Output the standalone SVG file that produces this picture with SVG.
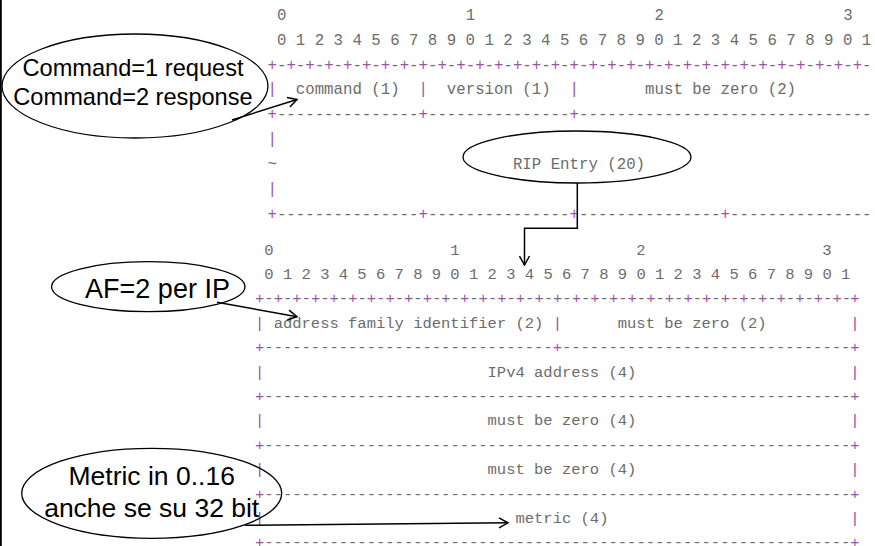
<svg xmlns="http://www.w3.org/2000/svg" width="875" height="546" viewBox="0 0 875 546">
<style>
  .m1 { font-family: "Liberation Mono", "Courier New", monospace; font-size: 15.733px; fill: #6c6c6c; white-space: pre; }
  .m2 { font-family: "Liberation Mono", "Courier New", monospace; font-size: 15.5px; fill: #6c6c6c; white-space: pre; }
  .p { fill: #a050a8; }
  .lbl { font-family: "Liberation Sans", Arial, sans-serif; fill: #000; text-anchor: middle; }
  .ell { fill: none; stroke: #000; stroke-width: 1.3; }
  .conn { fill: none; stroke: #000; stroke-width: 1.5; }
</style>
<defs>
  <marker id="arr" markerWidth="12" markerHeight="12" viewBox="0 0 12 12" refX="11" refY="6" orient="auto" markerUnits="userSpaceOnUse">
    <path d="M2,1 L11,6 L2,11" fill="none" stroke="#000" stroke-width="1.5"/>
  </marker>
</defs>
<rect x="0" y="0" width="1.8" height="546" fill="#000"/>

<g id="rip-header" xml:space="preserve">
  <text class="m1" x="276.94 465.74 654.54 843.34" y="19.7">0123</text>
  <text class="m1" x="276.94" y="44.6">0 1 2 3 4 5 6 7 8 9 0 1 2 3 4 5 6 7 8 9 0 1 2 3 4 5 6 7 8 9 0 1</text>
  <text class="m1" x="267.5" y="69.5"><tspan class="p">+</tspan>-<tspan class="p">+</tspan>-<tspan class="p">+</tspan>-<tspan class="p">+</tspan>-<tspan class="p">+</tspan>-<tspan class="p">+</tspan>-<tspan class="p">+</tspan>-<tspan class="p">+</tspan>-<tspan class="p">+</tspan>-<tspan class="p">+</tspan>-<tspan class="p">+</tspan>-<tspan class="p">+</tspan>-<tspan class="p">+</tspan>-<tspan class="p">+</tspan>-<tspan class="p">+</tspan>-<tspan class="p">+</tspan>-<tspan class="p">+</tspan>-<tspan class="p">+</tspan>-<tspan class="p">+</tspan>-<tspan class="p">+</tspan>-<tspan class="p">+</tspan>-<tspan class="p">+</tspan>-<tspan class="p">+</tspan>-<tspan class="p">+</tspan>-<tspan class="p">+</tspan>-<tspan class="p">+</tspan>-<tspan class="p">+</tspan>-<tspan class="p">+</tspan>-<tspan class="p">+</tspan>-<tspan class="p">+</tspan>-<tspan class="p">+</tspan>-<tspan class="p">+</tspan>-</text>
  <text class="m1" y="94.4"><tspan class="p" x="267.5">|</tspan><tspan x="295.82">command (1)</tspan><tspan class="p" x="418.54">|</tspan><tspan x="446.86">version (1)</tspan><tspan class="p" x="569.58">|</tspan><tspan x="645.1">must be zero (2)</tspan></text>
  <text class="m1" y="119.3"><tspan class="p" x="267.5">+</tspan>---------------<tspan class="p" x="418.54">+</tspan>---------------<tspan class="p" x="569.58">+</tspan>-------------------------------</text>
  <text class="m1 p" x="267.5" y="144.2">|</text>
  <text class="m1" y="169.1"><tspan x="267.5">~</tspan><tspan x="512.94">RIP Entry (20)</tspan></text>
  <text class="m1 p" x="267.5" y="194">|</text>
  <text class="m1" y="218.9"><tspan class="p" x="267.5">+</tspan>---------------<tspan class="p" x="418.54">+</tspan>---------------<tspan class="p" x="569.58">+</tspan>---------------<tspan class="p" x="720.62">+</tspan>---------------</text>
</g>

<g id="rip-entry" xml:space="preserve">
  <text class="m2" x="264.35 450.35 636.35 822.35" y="254.5">0123</text>
  <text class="m2" x="264.35" y="278.9">0 1 2 3 4 5 6 7 8 9 0 1 2 3 4 5 6 7 8 9 0 1 2 3 4 5 6 7 8 9 0 1</text>
  <text class="m2" x="255.05" y="303.3"><tspan class="p">+</tspan>-<tspan class="p">+</tspan>-<tspan class="p">+</tspan>-<tspan class="p">+</tspan>-<tspan class="p">+</tspan>-<tspan class="p">+</tspan>-<tspan class="p">+</tspan>-<tspan class="p">+</tspan>-<tspan class="p">+</tspan>-<tspan class="p">+</tspan>-<tspan class="p">+</tspan>-<tspan class="p">+</tspan>-<tspan class="p">+</tspan>-<tspan class="p">+</tspan>-<tspan class="p">+</tspan>-<tspan class="p">+</tspan>-<tspan class="p">+</tspan>-<tspan class="p">+</tspan>-<tspan class="p">+</tspan>-<tspan class="p">+</tspan>-<tspan class="p">+</tspan>-<tspan class="p">+</tspan>-<tspan class="p">+</tspan>-<tspan class="p">+</tspan>-<tspan class="p">+</tspan>-<tspan class="p">+</tspan>-<tspan class="p">+</tspan>-<tspan class="p">+</tspan>-<tspan class="p">+</tspan>-<tspan class="p">+</tspan>-<tspan class="p">+</tspan>-<tspan class="p">+</tspan>-<tspan class="p" x="850.25">+</tspan></text>
  <text class="m2" y="327.7"><tspan class="p" x="255.05">|</tspan><tspan x="273.65">address family identifier (2)</tspan><tspan class="p" x="552.65">|</tspan><tspan x="617.75">must be zero (2)</tspan><tspan class="p" x="850.25">|</tspan></text>
  <text class="m2" y="352.1"><tspan class="p" x="255.05">+</tspan>-------------------------------<tspan class="p" x="552.65">+</tspan>-------------------------------<tspan class="p" x="850.25">+</tspan></text>
  <text class="m2" y="376.5"><tspan class="p" x="255.05">|</tspan><tspan x="487.55">IPv4 address (4)</tspan><tspan class="p" x="850.25">|</tspan></text>
  <text class="m2" y="400.9"><tspan class="p" x="255.05">+</tspan>---------------------------------------------------------------<tspan class="p" x="850.25">+</tspan></text>
  <text class="m2" y="425.3"><tspan class="p" x="255.05">|</tspan><tspan x="487.55">must be zero (4)</tspan><tspan class="p" x="850.25">|</tspan></text>
  <text class="m2" y="449.7"><tspan class="p" x="255.05">+</tspan>---------------------------------------------------------------<tspan class="p" x="850.25">+</tspan></text>
  <text class="m2" y="474.1"><tspan class="p" x="255.05">|</tspan><tspan x="487.55">must be zero (4)</tspan><tspan class="p" x="850.25">|</tspan></text>
  <text class="m2" y="498.5"><tspan class="p" x="255.05">+</tspan>---------------------------------------------------------------<tspan class="p" x="850.25">+</tspan></text>
  <text class="m2" y="522.9"><tspan class="p" x="255.05">|</tspan><tspan x="515.45">metric (4)</tspan><tspan class="p" x="850.25">|</tspan></text>
  <text class="m2" y="547.3"><tspan class="p" x="255.05">+</tspan>---------------------------------------------------------------<tspan class="p" x="850.25">+</tspan></text>
</g>

<g id="note-command">
  <ellipse class="ell" cx="135" cy="86" rx="133" ry="52"/>
  <text class="lbl" font-size="23.6" x="133" y="76">Command=1 request</text>
  <text class="lbl" font-size="23.6" x="133" y="105">Command=2 response</text>
</g>

<g id="note-rip-entry">
  <ellipse class="ell" cx="577" cy="157" rx="114" ry="26"/>
</g>

<g id="note-af">
  <ellipse class="ell" cx="148.3" cy="286.7" rx="96.7" ry="25"/>
  <text class="lbl" font-size="27" x="157.5" y="298.3">AF=2 per IP</text>
</g>

<g id="note-metric">
  <ellipse class="ell" cx="151.7" cy="493.3" rx="130" ry="45"/>
  <text class="lbl" font-size="26.5" x="151.7" y="485">Metric in 0..16</text>
  <text class="lbl" font-size="26.5" x="151.7" y="516.7">anche se su 32 bit</text>
</g>

<g id="connectors">
  <path class="conn" d="M232,120 L297,99.5" marker-end="url(#arr)"/>
  <path class="conn" d="M577.3,183 V228.3 H524.5 V265" marker-end="url(#arr)"/>
  <path class="conn" d="M217,302.3 L297,316.7" marker-end="url(#arr)"/>
  <path class="conn" d="M245,525.3 L508,522.8" marker-end="url(#arr)"/>
</g>
</svg>
